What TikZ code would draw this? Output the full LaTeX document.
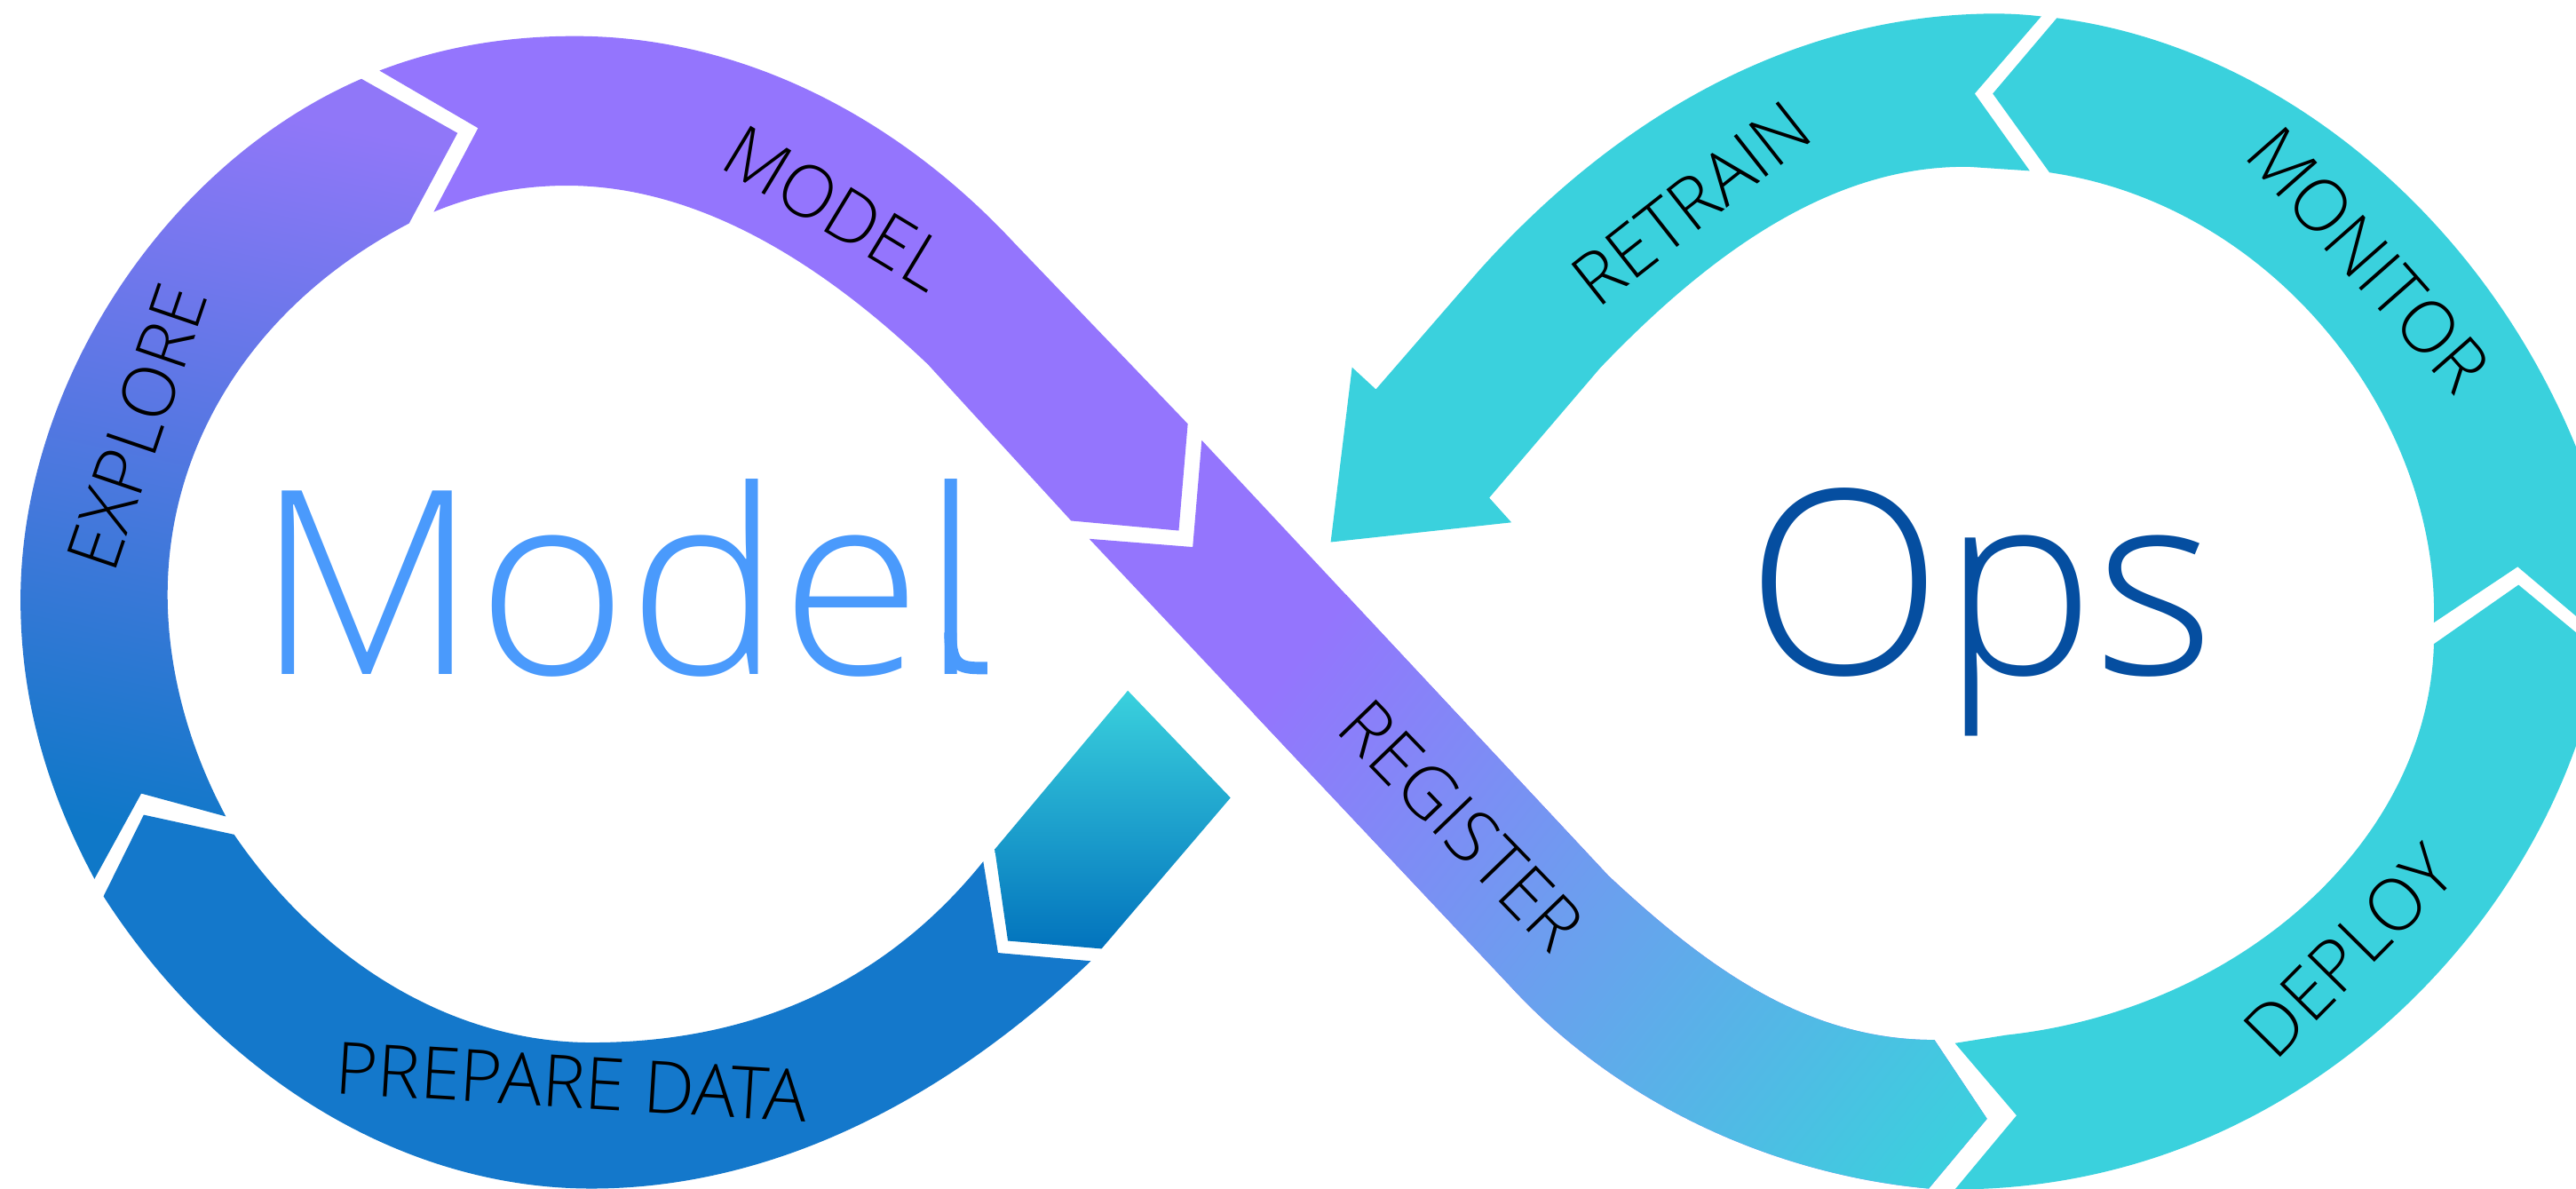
\documentclass[tikz,border=0pt]{standalone}
\usepackage{fontspec}
\usepackage{graphicx}
\setmainfont{Open Sans}
\newfontfamily\lightf{Open Sans Light}
\definecolor{purp}{HTML}{9475FD}
\definecolor{teal1}{HTML}{3AD1DD}
\definecolor{blue1}{HTML}{1478CB}
\definecolor{expltop}{HTML}{9077F8}
\definecolor{explbot}{HTML}{0F78C8}
\definecolor{piecebot}{HTML}{0273BD}
\definecolor{modelc}{HTML}{4A9AFC}
\definecolor{opsc}{HTML}{054EA0}
\tikzset{
  lbl/.style={anchor=center,inner sep=0pt,text=black,font=\lightf\fontsize{12.5pt}{12.5pt}\selectfont},
  bigtext/.style={anchor=base west,inner sep=0pt,font=\lightf\fontsize{44.5pt}{44.5pt}\selectfont}
}
\begin{document}
\begin{tikzpicture}[x=0.01cm,y=-0.01cm]
\useasboundingbox (0,0) rectangle (1568,723.7);
\clip (0,0) rectangle (1568,723.7);
% Explore
\shade[top color=expltop,bottom color=explbot,shading angle=-12]
  (220,48) -- (278.5,81) -- (249,136)
  .. controls (155,185) and (102,270) .. (102,362)
  .. controls (102,408) and (115,455) .. (137.5,497)
  -- (86,483) -- (57.5,535)
  .. controls (28,480) and (12.5,425) .. (12.5,365)
  .. controls (12.5,235) and (100,100) .. (220,48)
  -- cycle;
% Model
\fill[purp]
  (231,43) .. controls (270,28) and (310,22) .. (350,22)
  .. controls (450,22) and (545,70) .. (617.5,148)
  -- (723,258) -- (717.5,323) -- (652,317) -- (565,222)
  .. controls (500,160) and (425,113) .. (345,113)
  .. controls (315,113) and (288,119) .. (264,129)
  -- (291,78) -- cycle;
% Register
\def\regpath{(731.5,268) -- (979,533)
  .. controls (1040,590) and (1100,633) .. (1177.5,633)
  -- (1209.5,681) -- (1174,723.5)
  .. controls (1080,715) and (985,672) .. (919,600)
  -- (663,328) -- (726,333) -- cycle}
\fill[purp] \regpath;
\begin{scope}
  \clip \regpath;
  \shade[transform canvas={rotate around={-38:(790,400)}},left color=purp,right color=teal1] (790,0) rectangle (1299,800);
\end{scope}
% Deploy
\fill[teal1]
  (1190,635) -- (1221.5,630)
  .. controls (1360,615) and (1478,515) .. (1481.5,392)
  -- (1533,356) -- (1568,385) -- (1568,454)
  .. controls (1520,590) and (1380,724) .. (1190,724)
  -- (1227.5,679) -- cycle;
% Monitor
\fill[teal1]
  (1252,11) .. controls (1385,28) and (1510,130) .. (1568,272)
  -- (1568,375) -- (1532.5,345) -- (1481.5,379)
  .. controls (1485,255) and (1385,125) .. (1247.5,105)
  -- (1213,57) -- cycle;
% Retrain
\fill[teal1]
  (1242.5,10) .. controls (1230,8.5) and (1217,8) .. (1204,8.5)
  .. controls (1090,12) and (985,70) .. (900,165)
  -- (837.5,237) -- (823,223.6) -- (810,330) -- (920,318) -- (906.5,303) -- (974,224)
  .. controls (1040,155) and (1115,100) .. (1199,101.6)
  -- (1235.5,104) -- (1202,57) -- cycle;
% Prepare data
\fill[blue1]
  (87.5,496) -- (142.5,508)
  .. controls (195,585) and (275,634.6) .. (360,634.6)
  .. controls (460,634.6) and (540,597) .. (598.5,524.4)
  -- (607.5,580) -- (664,585)
  .. controls (575,670) and (470,723.5) .. (360,723.5)
  .. controls (240,723.5) and (130,650) .. (63,545.6)
  -- cycle;
% Small piece
\shade[top color=teal1,bottom color=piecebot]
  (686.5,420.4) -- (749,485.6) -- (670.5,577.5) -- (613.5,572.7) -- (605.5,517) -- cycle;
% Labels
\node[lbl] (explore) at (83.3,260) {\rotatebox{71.2}{EXPLORE}};
\node[lbl] (modellbl) at (509,126.7) {\rotatebox{-31.2}{MODEL}};
\node[lbl] (retrain) at (1029.4,123.8) {\rotatebox{38.2}{RETRAIN}};
\node[lbl] (monitor) at (1441.6,157.8) {\rotatebox{-48.6}{MONITOR}};
\node[lbl] (deploy) at (1430,579) {\rotatebox{45.3}{DEPLOY}};
\node[lbl,transform canvas={rotate around={-46:(889.6,502.2)}}] (register) at (889.6,502.2) {REGISTER};
\node[lbl] (prepare) at (347.9,658.5) {\rotatebox{-3.5}{PREPARE DATA}};
% Titles
\node[bigtext,text=modelc] (modelt) at (155,410.5) {Model};
\draw[modelc,line width=0.075cm] (578.5,385) .. controls (578.5,407) and (585,406.7) .. (601,406.7);
\node[bigtext,text=opsc] (opst) at (1062,410.5) {Ops};
\end{tikzpicture}
\end{document}
